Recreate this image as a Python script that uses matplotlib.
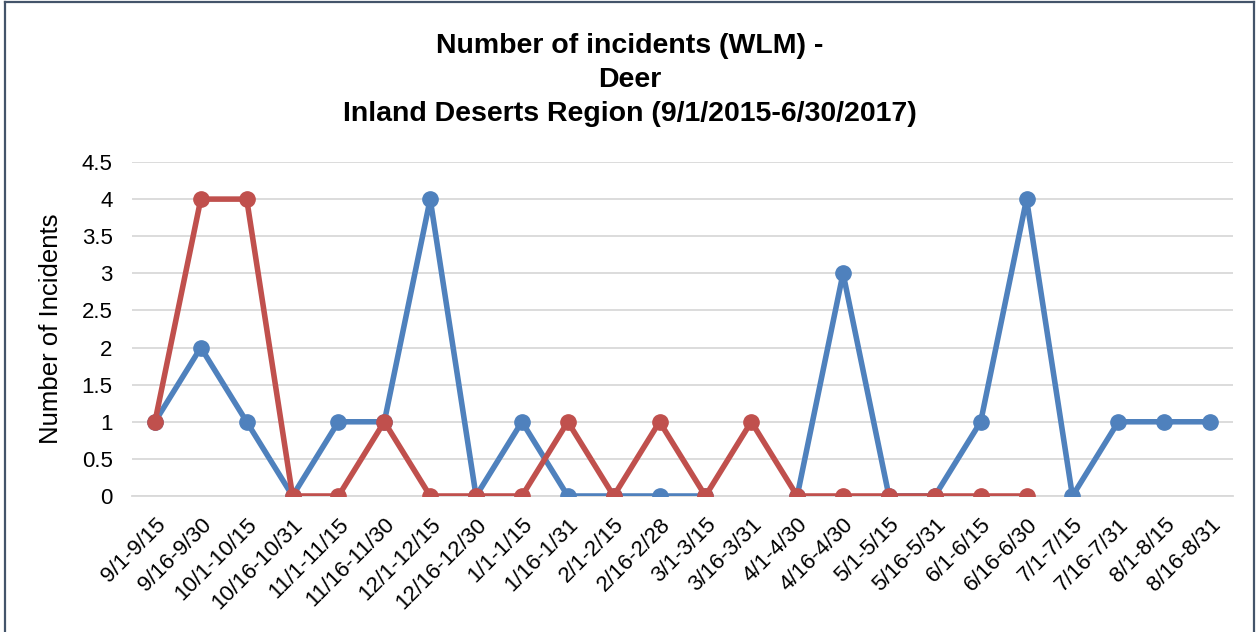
import numpy as np
import matplotlib
matplotlib.use("Agg")
import matplotlib.pyplot as plt
from matplotlib.lines import Line2D

plt.rcParams['font.family'] = ['Liberation Sans', 'DejaVu Sans']

categories = ["9/1-9/15", "9/16-9/30", "10/1-10/15", "10/16-10/31", "11/1-11/15",
              "11/16-11/30", "12/1-12/15", "12/16-12/30", "1/1-1/15", "1/16-1/31",
              "2/1-2/15", "2/16-2/28", "3/1-3/15", "3/16-3/31", "4/1-4/30",
              "4/16-4/30", "5/1-5/15", "5/16-5/31", "6/1-6/15", "6/16-6/30",
              "7/1-7/15", "7/16-7/31", "8/1-8/15", "8/16-8/31"]
series_2016_17 = [1, 2, 1, 0, 1, 1, 4, 0, 1, 0, 0, 0, 0, np.nan, 0, 3, 0, 0, 1, 4, 0, 1, 1, 1]
series_2015_16 = [1, 4, 4, 0, 0, 1, 0, 0, 0, 1, 0, 1, 0, 1, 0, 0, 0, 0, 0, 0,
                  np.nan, np.nan, np.nan, np.nan]
yticks = [0, 0.5, 1, 1.5, 2, 2.5, 3, 3.5, 4, 4.5]
ytick_labels = ["0", "0.5", "1", "1.5", "2", "2.5", "3", "3.5", "4", "4.5"]

W, H = 1259, 632
fig = plt.figure(figsize=(W / 100, H / 100), dpi=100)
ax = fig.add_axes([132 / W, 1 - 496 / H, (1233 - 132) / W, (496 - 162) / H])

x = np.arange(len(categories))
blue = '#4F81BD'
red = '#C0504D'
ax.plot(x, series_2016_17, color=blue, lw=4, marker='o', ms=11, zorder=3,
        solid_capstyle='round', solid_joinstyle='round')
ax.plot(x, series_2015_16, color=red, lw=4, marker='o', ms=11, zorder=4,
        solid_capstyle='round', solid_joinstyle='round')

ax.set_xlim(-0.5, len(categories) - 0.5)
ax.set_ylim(0, 4.5)
ax.set_yticks(yticks)
ax.set_yticklabels(ytick_labels, fontsize=16)
ax.set_xticks(x)
ax.set_xticklabels(categories, fontsize=16, rotation=45, ha='right',
                   rotation_mode='anchor')
ax.tick_params(axis='both', length=0)
ax.tick_params(axis='x', pad=13)
ax.tick_params(axis='y', pad=14)
ax.grid(axis='y', color='#D9D9D9', lw=1.3, zorder=0)
ax.set_axisbelow(True)
for s in ['left', 'right', 'top']:
    ax.spines[s].set_visible(False)
ax.spines['bottom'].set_color('#D9D9D9')
ax.spines['bottom'].set_linewidth(1.3)

ax.set_ylabel("Number of Incidents", fontsize=18.5)
ax.yaxis.set_label_coords((63 - 132) / 1101, 0.5)

fig.text(0.5, 1 - 80 / H,
         "Number of incidents (WLM) -\nDeer\nInland Deserts Region (9/1/2015-6/30/2017)",
         ha='center', va='center', fontsize=20.5, fontweight='bold', linespacing=1.4)

border = '#44546A'
fig.add_artist(Line2D([5 / W, 5 / W], [0, 1 - 2 / H], color=border, lw=1.6))
fig.add_artist(Line2D([5 / W, 1254 / W], [1 - 2 / H, 1 - 2 / H], color=border, lw=1.6))
fig.add_artist(Line2D([1254 / W, 1254 / W], [0, 1 - 2 / H], color=border, lw=1.6))

fig.savefig("out.png", dpi=100)
